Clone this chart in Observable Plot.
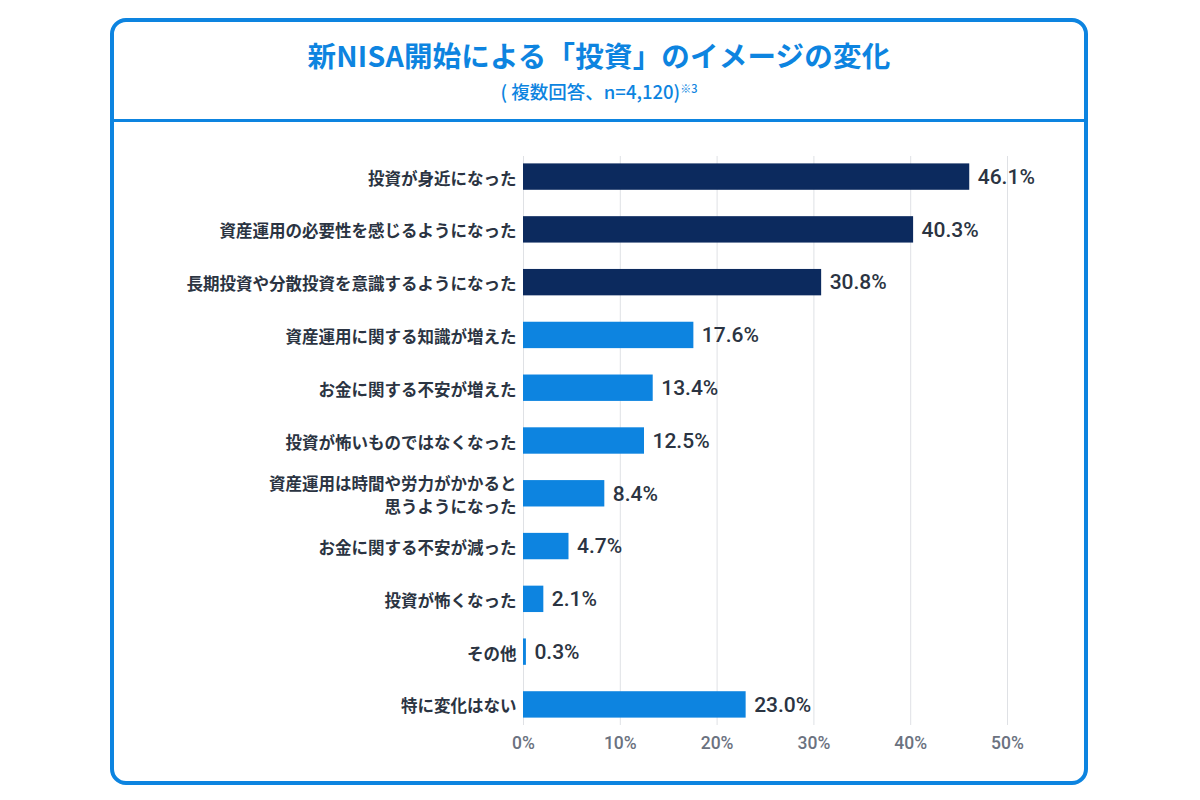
<!DOCTYPE html>
<html><head><meta charset="utf-8">
<script src="https://cdn.jsdelivr.net/npm/d3@7"></script>
<script src="https://cdn.jsdelivr.net/npm/@observablehq/plot@0.6"></script>
<style>
body{margin:0;background:#fff;width:1200px;height:800px;position:relative;overflow:hidden;font-family:"Noto Sans CJK JP",Roboto,sans-serif;}
#frame{position:absolute;left:110px;top:18px;width:978px;height:767px;box-sizing:border-box;border:4px solid #0d84e0;border-radius:16px;pointer-events:none;z-index:2;}
#header{position:absolute;left:0;top:0;width:100%;height:97px;border-bottom:3px solid #0d84e0;box-sizing:content-box;text-align:center;}
#title{margin-top:15px;font-size:28.5px;font-weight:700;color:#0d84e0;letter-spacing:0.2px;line-height:36px;}
#sub{margin-top:7px;font-size:18.5px;font-weight:500;color:#0d84e0;line-height:22px;}
#sub sup{font-size:11px;vertical-align:top;position:relative;top:-3px;}
#chart{position:absolute;left:0;top:120px;line-height:0;}
</style></head>
<body>
<div id="frame"><div id="header"><div id="title">新NISA開始による「投資」のイメージの変化</div><div id="sub">( 複数回答、n=4,120)<sup>※3</sup></div></div></div>
<div id="chart"></div>
<script>
const categories = [
  "投資が身近になった",
  "資産運用の必要性を感じるようになった",
  "長期投資や分散投資を意識するようになった",
  "資産運用に関する知識が増えた",
  "お金に関する不安が増えた",
  "投資が怖いものではなくなった",
  "資産運用は時間や労力がかかると\n思うようになった",
  "お金に関する不安が減った",
  "投資が怖くなった",
  "その他",
  "特に変化はない"
];
const values = [46.1, 40.3, 30.8, 17.6, 13.4, 12.5, 8.4, 4.7, 2.1, 0.3, 23.0];
const groups = ["top","top","top","rest","rest","rest","rest","rest","rest","rest","rest"];
const xTicks = [0, 10, 20, 30, 40, 50];

const data = categories.map((c, i) => ({category: c, value: values[i], group: groups[i]}));

const chart = Plot.plot({
  width: 1200,
  height: 660,
  marginLeft: 523,
  marginRight: 193,
  marginTop: 36,
  marginBottom: 55,
  style: {fontFamily: '"Noto Sans CJK JP", Roboto, sans-serif', background: "transparent"},
  x: {domain: [0, 50], ticks: xTicks},
  y: {domain: categories, paddingInner: 0.5, paddingOuter: 0.14, round: false},
  color: {domain: ["top", "rest"], range: ["#0c2a5e", "#0d84e0"]},
  marks: [
    Plot.gridX(xTicks, {stroke: "#dfe1e5", strokeOpacity: 1, strokeWidth: 1}),
    Plot.barX(data, {x: "value", y: "category", fill: "group"}),
    Plot.text(data, {x: "value", y: "category", text: d => d.value.toFixed(1) + "%", textAnchor: "start", dx: 8, fontSize: 21, fontWeight: 500, fill: "#2b3442", fontFamily: "Roboto, sans-serif"}),
    Plot.axisY({tickSize: 0, tickPadding: 7, fontSize: 16.5, fontWeight: 700, fill: "#2b3442", lineHeight: 1.42, label: null}),
    Plot.axisX(xTicks, {tickSize: 0, tickPadding: 11, fontSize: 17.5, fontWeight: 500, fill: "#6b7280", tickFormat: d => d + "%", label: null, fontFamily: "Roboto, sans-serif"})
  ]
});
document.getElementById("chart").appendChild(chart);
</script>
</body></html>
